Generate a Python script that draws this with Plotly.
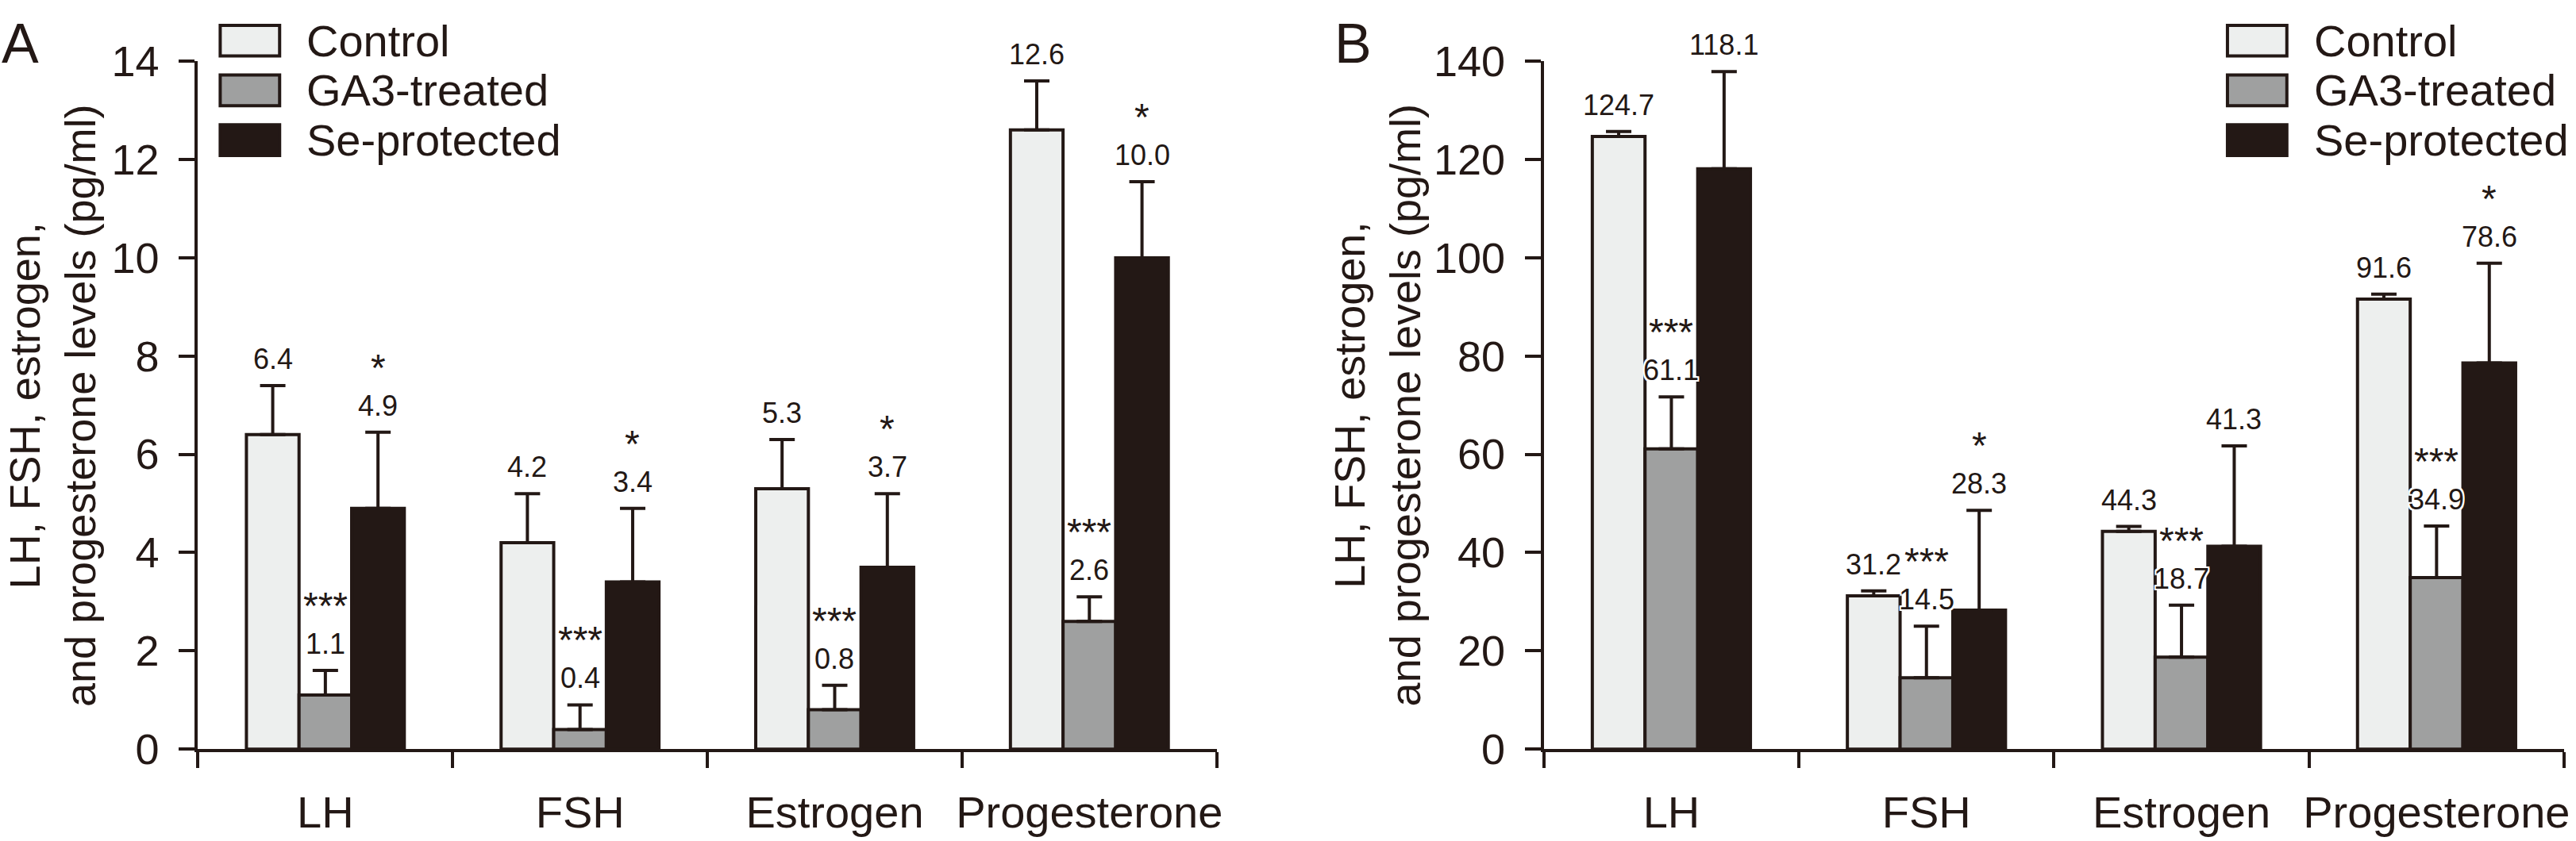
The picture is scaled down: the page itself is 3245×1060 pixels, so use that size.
import plotly.graph_objects as go

# ---------------- data ----------------
categories = ["LH", "FSH", "Estrogen", "Progesterone"]
groups = ["Control", "GA3-treated", "Se-protected"]

A_control = [6.4, 4.2, 5.3, 12.6]
A_control_err = [1.0, 1.0, 1.0, 1.0]
A_ga3 = [1.1, 0.4, 0.8, 2.6]
A_ga3_err = [0.5, 0.5, 0.5, 0.5]
A_se = [4.9, 3.4, 3.7, 10.0]
A_se_err = [1.55, 1.5, 1.5, 1.55]
A_control_sig = ["", "", "", ""]
A_ga3_sig = ["***", "***", "***", "***"]
A_se_sig = ["*", "*", "*", "*"]
A_yticks = [0, 2, 4, 6, 8, 10, 12, 14]

B_control = [124.7, 31.2, 44.3, 91.6]
B_control_err = [1.0, 1.0, 1.0, 1.0]
B_ga3 = [61.1, 14.5, 18.7, 34.9]
B_ga3_err = [10.6, 10.5, 10.6, 10.5]
B_se = [118.1, 28.3, 41.3, 78.6]
B_se_err = [19.8, 20.3, 20.4, 20.3]
B_control_sig = ["", "", "", ""]
B_ga3_sig = ["***", "***", "***", "***"]
B_se_sig = ["", "*", "", "*"]
B_yticks = [0, 20, 40, 60, 80, 100, 120, 140]

y_title = "LH, FSH, estrogen,<br>and progesterone levels (pg/ml)"

# ---------------- style ----------------
W, H = 3245, 1060
DARK = "#231815"
FILLS = ["#EDEFEE", "#9FA0A0", DARK]
FONT = "Liberation Sans, Arial, Helvetica, sans-serif"
BARGAP = 0.38
BW = (1 - BARGAP) / 3
VAL_SIZE = 36
STAR_SIZE = 48
VAL_SHIFT = 11
STAR_SHIFT = VAL_SHIFT + 42  # star text sits just above the value text
HALO = ("white 2px 0px 0px, white -2px 0px 0px, white 0px 2px 0px, white 0px -2px 0px, "
        "white 2px 2px 0px, white -2px -2px 0px, white 2px -2px 0px, white -2px 2px 0px")


def pxx(p):
    return p / W


def pxy(p):
    return 1 - p / H


panels = [
    dict(xa="x", ya="y", xdom=[250, 1536], ymax=14, yticks=A_yticks,
         vals=[A_control, A_ga3, A_se], errs=[A_control_err, A_ga3_err, A_se_err],
         sigs=[A_control_sig, A_ga3_sig, A_se_sig], letter="A", letter_x=0,
         title_x=66, legend_x=278),
    dict(xa="x2", ya="y2", xdom=[1949, 3237], ymax=140, yticks=B_yticks,
         vals=[B_control, B_ga3, B_se], errs=[B_control_err, B_ga3_err, B_se_err],
         sigs=[B_control_sig, B_ga3_sig, B_se_sig], letter="B", letter_x=1683,
         title_x=1739, legend_x=2812),
]

fig = go.Figure()
annotations = []
shapes = []
xs = list(range(len(categories)))

for p in panels:
    for j, g in enumerate(groups):
        fig.add_trace(go.Bar(
            x=xs, y=p["vals"][j], name=g, xaxis=p["xa"], yaxis=p["ya"],
            offsetgroup=str(j), showlegend=False,
            marker=dict(color=FILLS[j], line=dict(color=DARK, width=4)),
            error_y=dict(type="data", array=p["errs"][j], arrayminus=[0] * len(xs),
                         symmetric=False, color=DARK, thickness=4, width=16),
        ))
        for i in xs:
            xpos = i + (j - 1) * BW
            top = p["vals"][j][i] + p["errs"][j][i]
            annotations.append(dict(
                x=xpos, y=top, xref=p["xa"], yref=p["ya"], yshift=VAL_SHIFT,
                text=f"{p['vals'][j][i]:.1f}", showarrow=False,
                xanchor="center", yanchor="bottom",
                font=dict(family=FONT, size=VAL_SIZE, color=DARK, shadow=HALO)))
            sig = p["sigs"][j][i]
            if sig:
                annotations.append(dict(
                    x=xpos, y=top, xref=p["xa"], yref=p["ya"], yshift=STAR_SHIFT,
                    text=sig, showarrow=False, xanchor="center", yanchor="bottom",
                    font=dict(family=FONT, size=STAR_SIZE, color=DARK, shadow=HALO)))

    axn = p["xa"][1:]
    ayn = p["ya"][1:]
    xdom = [pxx(p["xdom"][0]), pxx(p["xdom"][1])]
    ydom = [pxy(969), pxy(50)]
    fig.update_layout(**{
        f"xaxis{axn}": dict(
            domain=xdom, anchor=p["ya"], range=[-0.5, len(xs) - 0.5],
            tickmode="array", tickvals=xs, ticktext=categories,
            ticks="outside", ticklen=20, tickcolor="rgba(0,0,0,0)",
            ticklabelstandoff=8,
            showline=True, linecolor=DARK, linewidth=4,
            showgrid=False, zeroline=False, fixedrange=True,
            tickfont=dict(family=FONT, size=56, color=DARK),
            minor=dict(tickmode="array", tickvals=[k - 0.5 for k in range(len(xs) + 1)],
                       ticks="outside", ticklen=20, tickwidth=4, tickcolor=DARK,
                       showgrid=False),
        ),
        f"yaxis{ayn}": dict(
            domain=ydom, anchor=p["xa"], range=[0, p["ymax"]],
            tickmode="array", tickvals=p["yticks"],
            ticks="outside", ticklen=20, tickwidth=4, tickcolor=DARK,
            ticklabelstandoff=14,
            showline=True, linecolor=DARK, linewidth=4,
            showgrid=False, zeroline=False, fixedrange=True,
            tickfont=dict(family=FONT, size=54, color=DARK),
        ),
    })

    # panel letter
    annotations.append(dict(x=pxx(p["letter_x"]), y=pxy(27), xref="paper", yref="paper",
                            text=p["letter"], showarrow=False, xanchor="left", yanchor="middle",
                            font=dict(family=FONT, size=70, color=DARK)))
    # y title
    annotations.append(dict(x=pxx(p["title_x"]), y=pxy(510), xref="paper", yref="paper",
                            text=y_title, textangle=-90, showarrow=False,
                            xanchor="center", yanchor="middle",
                            font=dict(family=FONT, size=54, color=DARK)))
    # legend
    for j, g in enumerate(groups):
        cy = 22.5 + 66.5 * j
        x0 = p["legend_x"]
        shapes.append(dict(type="rect", xref="paper", yref="paper",
                           x0=pxx(x0), x1=pxx(x0 + 75), y0=pxy(cy + 20.5), y1=pxy(cy - 20.5),
                           fillcolor=FILLS[j], line=dict(color=DARK, width=4)))
        annotations.append(dict(x=pxx(x0 + 107), y=pxy(cy), xref="paper", yref="paper",
                                text=g, showarrow=False, xanchor="left", yanchor="middle",
                                font=dict(family=FONT, size=56, color=DARK)))

fig.update_layout(
    width=W, height=H, margin=dict(l=0, r=0, t=0, b=0),
    paper_bgcolor="white", plot_bgcolor="white",
    barmode="group", bargap=BARGAP, bargroupgap=0,
    annotations=annotations, shapes=shapes,
    font=dict(family=FONT, color=DARK),
)

fig.write_html("out.html")
